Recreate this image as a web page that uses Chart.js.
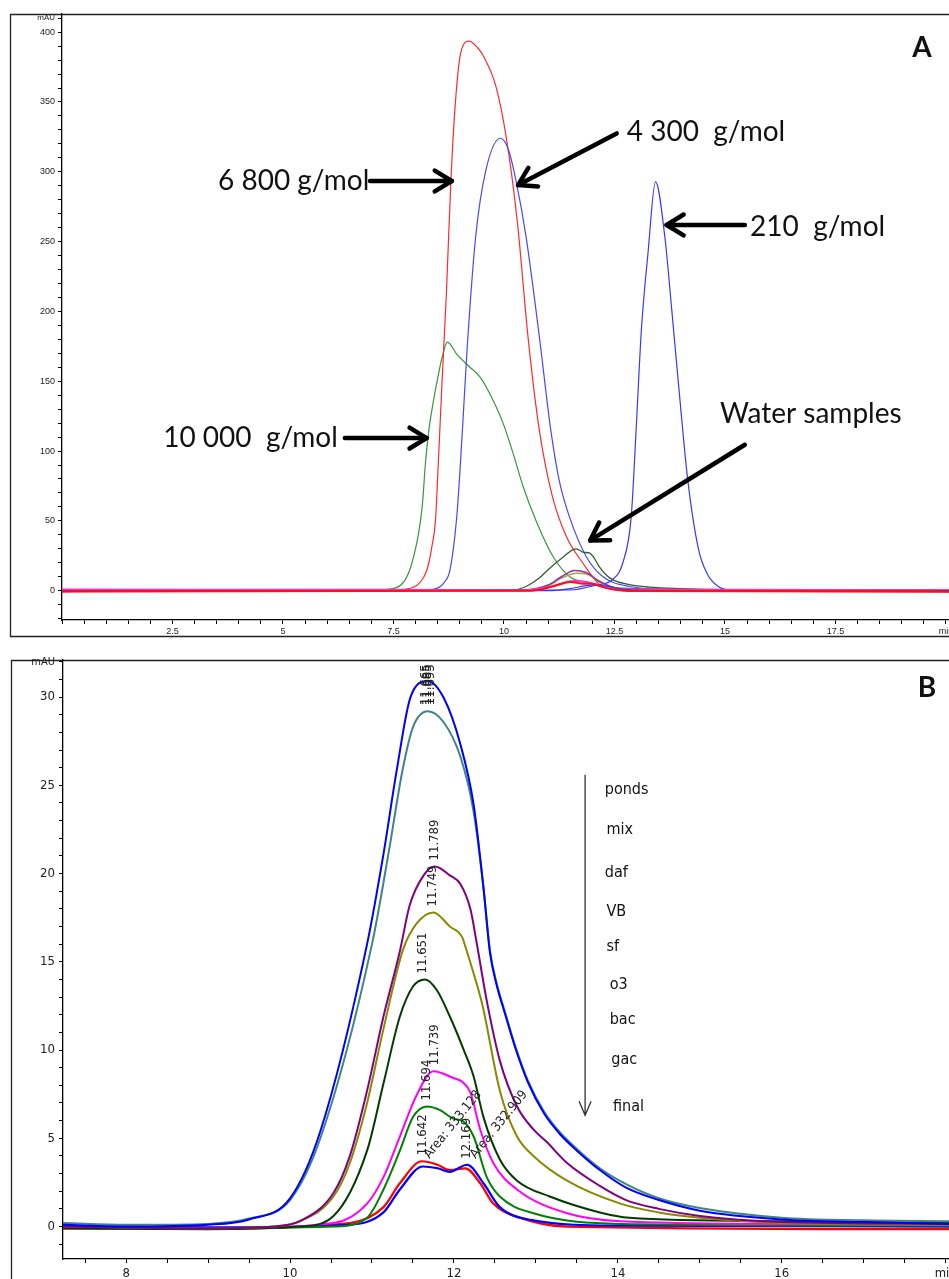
<!DOCTYPE html>
<html>
<head>
<meta charset="utf-8">
<script src="https://cdn.jsdelivr.net/npm/chart.js@4.4.1/dist/chart.umd.min.js"></script>
<style>
  html, body { margin: 0; padding: 0; background: #fff; }
  body { width: 949px; height: 1279px; position: relative; overflow: hidden; }
  canvas { position: absolute; left: 0; }
  #chartA { top: 0; }
  #chartB { top: 640px; }
</style>
</head>
<body>
<canvas id="chartA" width="949" height="640"></canvas>
<canvas id="chartB" width="949" height="639"></canvas>
<script>
"use strict"

// ---- panel A: standards + water samples, [time (min), signal (mAU)] ----
let aGreen10000 = [[0,0.3],[7.0,0.3],[7.55,2],[7.92,20],[8.15,60],[8.22,90],[8.3,115],[8.4,135],[8.5,152],[8.6,167],[8.72,178],[8.94,169],[9.23,160],[9.46,153],[9.68,141],[9.98,120],[10.2,99],[10.43,75],[10.74,49],[11.11,24.5],[11.49,10],[11.87,5.7],[12.25,3],[13,1.5],[15,0.5],[20.07,0.3]];
let aRed6800 = [[0,-0.8],[7.0,-0.5],[7.7,0.7],[8.19,10],[8.3,20],[8.37,31.7],[8.45,50],[8.52,95],[8.6,150],[8.7,215],[8.8,294],[8.9,349],[9.02,385],[9.21,393.6],[9.4,389],[9.55,382],[9.82,361],[10.05,325],[10.3,265],[10.55,180],[10.8,115],[11.1,67],[11.41,39],[11.78,20],[12.23,3],[13,-0.5],[20.07,-1]];
let aBlue4300 = [[0,0],[8.0,0],[8.46,1.5],[8.65,6],[8.78,15],[8.94,56],[9.06,115],[9.17,175],[9.36,253.5],[9.59,301],[9.92,324],[10.1,316],[10.27,294],[10.5,253.5],[10.8,182],[11.06,115],[11.25,79],[11.48,53],[11.86,24.5],[12.24,10],[12.84,3],[13.75,1],[20.07,0]];
let aBlue210 = [[0,0],[11.5,0.5],[12.09,4],[12.46,8],[12.69,20],[12.88,53],[12.99,115],[13.11,187],[13.26,242],[13.43,293],[13.64,253.5],[13.8,200],[14.01,127],[14.16,79],[14.4,30],[14.6,12],[14.85,3],[15.1,0.5],[16,0],[20.07,0]];
let aDarkGreenWater = [[0,0],[10.2,0.5],[10.5,3],[10.8,9],[11.0,15],[11.3,23],[11.63,30],[11.8,27.5],[11.93,27],[12.05,23],[12.16,17],[12.4,9],[12.85,4.3],[13.3,2.5],[14,1.5],[15,0.8],[20.07,0.3]];
let aPurpleWater = [[0,0],[10.4,0.3],[11.0,4],[11.3,10],[11.6,14.5],[11.86,13],[12.16,6.7],[12.5,2],[13,0.8],[20.07,0]];
let aOliveWater = [[0,0],[10.5,0.3],[11.0,3.5],[11.3,9],[11.65,12.5],[11.9,11.5],[12.2,5.5],[12.6,1.5],[13.2,0.5],[20.07,0]];
let aPinkWater = [[0,0.8],[7.5,0.6],[10.5,0.3],[11.0,2.5],[11.6,7],[11.9,6],[12.2,3],[12.6,0.8],[20.07,0.3]];
let aRedWater = [[0,-0.5],[10.6,0],[11.1,3],[11.5,6.2],[11.8,5],[12.0,5],[12.3,2],[12.8,0],[20.07,-0.5]];
let aBlueWater = [[0,0],[11.0,0],[11.5,1.5],[12.0,4],[12.3,3.5],[12.7,1],[13.5,0],[20.07,0]];

// ---- panel B: treatment train, [time (min), signal (mAU)] ----
let bPonds = [[7.23,0.1],[8,0],[9,0.1],[9.5,0.4],[10,1.6],[10.37,5.4],[10.94,16],[11.14,21.1],[11.3,25.8],[11.47,30],[11.68,30.9],[11.87,30],[12.08,27.3],[12.24,23.9],[12.36,19.2],[12.44,15.5],[12.52,13.7],[12.62,12.1],[12.75,10.1],[12.9,8.2],[13.1,6.4],[13.3,5.2],[13.5,4.3],[13.78,3.2],[14.1,2.2],[14.5,1.5],[15,0.9],[16,0.4],[17,0.25],[18.04,0.15]];
let bMix = [[7.23,0.2],[8,0.1],[9,0.15],[9.5,0.45],[10,1.5],[10.37,5],[11.0,16],[11.2,21.1],[11.37,25.8],[11.5,28.3],[11.68,29.2],[11.87,28.6],[12.08,26.6],[12.24,23.5],[12.36,19.2],[12.44,15.6],[12.52,13.8],[12.62,12.2],[12.75,10.2],[12.9,8.3],[13.1,6.5],[13.3,5.3],[13.5,4.4],[13.78,3.3],[14.1,2.4],[14.5,1.6],[15,1.05],[16,0.5],[17,0.35],[18.04,0.3]];
let bDaf = [[7.23,0],[9,-0.1],[9.8,0],[10.12,0.3],[10.53,1.9],[10.73,4.0],[10.94,7.7],[11.14,11.9],[11.34,15.6],[11.46,18.2],[11.63,19.9],[11.77,20.4],[11.95,19.9],[12.08,19.4],[12.2,18.0],[12.28,16.0],[12.4,12.8],[12.56,9.4],[12.77,6.8],[12.97,5.5],[13.13,4.8],[13.38,3.6],[13.78,2.3],[14.1,1.5],[14.5,1.0],[15,0.6],[16,0.26],[18.04,0.15]];
let bVB = [[7.23,0],[9,-0.1],[9.8,0],[10.12,0.3],[10.53,1.7],[10.73,3.6],[10.94,7.0],[11.14,11.2],[11.38,15.7],[11.55,17.2],[11.75,17.8],[11.95,17.0],[12.1,16.4],[12.15,15.7],[12.23,14.5],[12.35,12.5],[12.56,7.7],[12.77,5.1],[12.97,4.0],[13.38,2.6],[14.03,1.3],[14.5,0.8],[15,0.5],[16,0.2],[18.04,0.1]];
let bSf = [[7.23,-0.1],[9,-0.15],[10.12,0],[10.53,0.6],[10.94,4.3],[11.14,8.1],[11.34,11.9],[11.5,13.6],[11.65,14.0],[11.79,13.4],[11.95,11.9],[12.12,10.0],[12.24,8.5],[12.36,6.2],[12.56,3.8],[12.77,2.6],[13.17,1.7],[13.78,0.8],[14.14,0.5],[16,0.3],[18.04,0.2]];
let bO3 = [[7.23,-0.1],[9,-0.1],[10.53,0.2],[10.94,1.3],[11.14,2.8],[11.34,5.1],[11.54,7.4],[11.75,8.8],[12.0,8.4],[12.1,8.2],[12.2,7.6],[12.32,5.5],[12.48,3.6],[12.77,2.1],[13.38,0.75],[14.03,0.3],[16,0.15],[18.04,0.1]];
let bBac = [[7.23,-0.1],[9,-0.1],[10.53,0],[10.94,0.5],[11.14,2.1],[11.34,4.3],[11.5,6.2],[11.67,6.8],[11.83,6.6],[12.0,6.1],[12.1,6.0],[12.24,5.1],[12.4,2.8],[12.56,1.7],[12.97,0.75],[14.03,0.15],[18.04,0.05]];
let bGac = [[7.23,-0.1],[9,-0.1],[10.73,0.2],[11.14,1.1],[11.34,2.45],[11.61,3.7],[11.8,3.5],[11.95,3.2],[12.14,3.3],[12.32,2.45],[12.48,1.3],[12.77,0.56],[13.38,0],[18.04,-0.15]];
let bFinal = [[7.23,0],[9,-0.05],[10.73,0.1],[11.14,0.8],[11.34,2.1],[11.62,3.4],[11.8,3.3],[11.95,3.1],[12.16,3.5],[12.36,2.45],[12.56,1.1],[12.97,0.35],[14.03,0.05],[18.04,0]];

// ---- annotation texts ----
let aTextLabels = ["6 800 g/mol", "4 300  g/mol", "210  g/mol", "10 000  g/mol", "Water samples"];
let aTextX = [3.53, 12.78, 15.57, 2.29, 14.89];
let aTextY = [293.4, 328.4, 260.5, 109.5, 126.7];
let aArrowFrom = [[6.97, 293.4], [12.55, 327.5], [15.45, 261.9], [6.4, 109.3], [15.45, 104.5]];
let aArrowTo = [[8.82, 293.4], [10.32, 290.5], [13.68, 261.9], [8.25, 109.3], [11.95, 36]];

let bLegendLabels = ["ponds", "mix", "daf", "VB", "sf", "o3", "bac", "gac", "final"];
let bLegendX = [13.84, 13.86, 13.84, 13.86, 13.86, 13.9, 13.9, 13.92, 13.94];
let bLegendY = [24.75, 22.5, 20.05, 17.84, 15.86, 13.7, 11.71, 9.45, 6.78];

let bPeakLabels = ["11.665", "11.685", "11.695", "11.789", "11.749", "11.651", "11.739", "11.694", "11.642", "12.169"];
let bPeakX = [11.65, 11.68, 11.71, 11.77, 11.74, 11.62, 11.76, 11.67, 11.62, 12.16];
let bPeakY = [29.2, 29.2, 29.2, 20.4, 17.8, 14.0, 8.8, 6.8, 3.7, 3.5];
let bAreaLabels = ["Area: 333.128", "Area: 332.909"];
let bAreaX = [11.67, 12.23];
let bAreaY = [3.95, 3.95];

// fonts
function hasFont(name) {
  let c = document.createElement("canvas").getContext("2d");
  c.font = "40px monospace";
  let w = c.measureText("ponds mix 0123").width;
  c.font = '40px "' + name + '", monospace';
  return c.measureText("ponds mix 0123").width !== w;
}
let sans = '"Liberation Sans", Arial, sans-serif';
let narrow = hasFont("Liberation Sans Narrow") ? '"Liberation Sans Narrow", sans-serif'
  : (hasFont("DejaVu Sans Condensed") ? '"DejaVu Sans Condensed", sans-serif' : sans);
let calibri = 'Lato, "Open Sans", sans-serif';

function lineSet(data, color, width) {
  return { data: data, borderColor: color, borderWidth: width, pointRadius: 0,
           fill: false, cubicInterpolationMode: "monotone" };
}

function px(chart, t, v) {
  return [chart.scales.x.getPixelForValue(t), chart.scales.y.getPixelForValue(v)];
}

function drawArrow(ctx, x1, y1, x2, y2, width, head) {
  let a = Math.atan2(y2 - y1, x2 - x1);
  ctx.save();
  ctx.strokeStyle = "#000";
  ctx.lineWidth = width;
  ctx.lineCap = "round";
  ctx.lineJoin = "round";
  ctx.beginPath();
  ctx.moveTo(x1, y1);
  ctx.lineTo(x2, y2);
  ctx.stroke();
  ctx.beginPath();
  ctx.moveTo(x2 - head * Math.cos(a - 0.55), y2 - head * Math.sin(a - 0.55));
  ctx.lineTo(x2, y2);
  ctx.lineTo(x2 - head * Math.cos(a + 0.55), y2 - head * Math.sin(a + 0.55));
  ctx.stroke();
  ctx.restore();
}

function isMult(v, step) {
  return Math.abs(v / step - Math.round(v / step)) < 1e-6;
}

// frame round each panel
function framePlugin(left, top, bottom) {
  return {
    id: "frame",
    beforeDraw(chart) {
      let ctx = chart.ctx;
      ctx.save();
      ctx.strokeStyle = "#222";
      ctx.lineWidth = 1.3;
      ctx.beginPath();
      ctx.moveTo(chart.width + 2, top);
      ctx.lineTo(left, top);
      ctx.lineTo(left, bottom);
      if (bottom < chart.height) ctx.lineTo(chart.width + 2, bottom);
      ctx.stroke();
      ctx.restore();
    }
  };
}

let annotateA = {
  id: "annotateA",
  afterDatasetsDraw(chart) {
    let ctx = chart.ctx;
    ctx.save();
    ctx.fillStyle = "#111";
    ctx.font = "28px " + calibri;
    ctx.textBaseline = "middle";
    ctx.textAlign = "left";
    for (let i = 0; i < aTextLabels.length; i++) {
      let p = px(chart, aTextX[i], aTextY[i]);
      ctx.fillText(aTextLabels[i], p[0], p[1]);
      let f = px(chart, aArrowFrom[i][0], aArrowFrom[i][1]);
      let t = px(chart, aArrowTo[i][0], aArrowTo[i][1]);
      drawArrow(ctx, f[0], f[1], t[0], t[1], 4.5, 20);
    }
    ctx.font = "bold 28px " + calibri;
    ctx.textAlign = "center";
    let p = px(chart, 19.46, 389);
    ctx.fillText("A", p[0], p[1]);
    ctx.restore();
  }
};

let annotateB = {
  id: "annotateB",
  afterDatasetsDraw(chart) {
    let ctx = chart.ctx;
    ctx.save();
    ctx.fillStyle = "#222";
    // retention time labels above the peaks
    ctx.font = "13px " + narrow;
    ctx.textAlign = "left";
    ctx.textBaseline = "middle";
    for (let i = 0; i < bPeakLabels.length; i++) {
      let p = px(chart, bPeakX[i], bPeakY[i]);
      ctx.save();
      ctx.translate(p[0], p[1] - 6);
      ctx.rotate(-Math.PI / 2);
      ctx.fillText(bPeakLabels[i], 0, 0);
      ctx.restore();
    }
    for (let i = 0; i < bAreaLabels.length; i++) {
      let p = px(chart, bAreaX[i], bAreaY[i]);
      ctx.save();
      ctx.translate(p[0], p[1]);
      ctx.rotate(-51 * Math.PI / 180);
      ctx.fillText(bAreaLabels[i], 0, 0);
      ctx.restore();
    }
    // order of the samples along the treatment train
    ctx.font = "16px " + narrow;
    ctx.fillStyle = "#111";
    for (let i = 0; i < bLegendLabels.length; i++) {
      let p = px(chart, bLegendX[i], bLegendY[i]);
      ctx.fillText(bLegendLabels[i], p[0], p[1]);
    }
    let top = px(chart, 13.6, 25.6);
    let bot = px(chart, 13.6, 6.3);
    ctx.strokeStyle = "#333";
    ctx.lineWidth = 1.3;
    ctx.beginPath();
    ctx.moveTo(top[0], top[1]);
    ctx.lineTo(bot[0], bot[1]);
    ctx.moveTo(bot[0] - 6, bot[1] - 14);
    ctx.lineTo(bot[0], bot[1]);
    ctx.lineTo(bot[0] + 6, bot[1] - 14);
    ctx.stroke();
    ctx.font = "bold 28px " + calibri;
    ctx.textAlign = "center";
    ctx.fillStyle = "#111";
    let p = px(chart, 17.77, 30.5);
    ctx.fillText("B", p[0], p[1]);
    ctx.restore();
  }
};

function makeOptions(o) {
  return {
    responsive: false,
    animation: false,
    devicePixelRatio: 1,
    layout: { padding: { left: 0, top: o.top, right: 0, bottom: 0 } },
    plugins: { legend: { display: false }, tooltip: { enabled: false } },
    scales: {
      x: {
        type: "linear", min: o.xMin, max: o.xMax,
        ticks: {
          stepSize: 0.5, autoSkip: false, maxRotation: 0, minRotation: 0, includeBounds: false,
          color: "#222", padding: o.xPad, font: o.xFont,
          callback: v => Math.abs(v - o.xLast) < 1e-6 ? "min"
            : (isMult(v, o.xMajor) && v > o.xMin + 0.01 ? String(v) : "")
        },
        grid: { drawOnChartArea: false, tickLength: 4, color: "#000", lineWidth: 1 },
        border: { color: "#000", width: 1.3 },
        afterFit: s => { s.height = o.xHeight; s.paddingLeft = 0; s.paddingRight = 0; }
      },
      y: {
        type: "linear", min: o.yMin, max: o.yMax,
        ticks: {
          stepSize: o.yStep, autoSkip: false, includeBounds: false, color: "#222", padding: o.yPad,
          font: ctx => (ctx.tick && Math.abs(ctx.tick.value - o.yTop) < 1e-6) ? o.unitFont : o.yFont,
          callback: v => Math.abs(v - o.yTop) < 1e-6 ? "mAU" : (isMult(v, o.yMajor) ? String(v) : "")
        },
        grid: { drawOnChartArea: false, tickLength: 4, color: "#000", lineWidth: 1 },
        border: { color: "#000", width: 1.3 },
        afterFit: s => { s.width = o.yWidth; s.paddingTop = 0; s.paddingBottom = 0; }
      }
    }
  };
}

let chartA = new Chart(document.getElementById("chartA"), {
  type: "line",
  data: {
    datasets: [
      lineSet(aRedWater, "#ff1010", 2),
      lineSet(aBlueWater, "#3535ff", 1.2),
      lineSet(aPinkWater, "#ff33cc", 2),
      lineSet(aDarkGreenWater, "#2f5f2f", 1.3),
      lineSet(aPurpleWater, "#993399", 1.6),
      lineSet(aOliveWater, "#a3a353", 1.6),
      lineSet(aBlue210, "#3838ff", 1.2),
      lineSet(aBlue4300, "#4747ff", 1.2),
      lineSet(aRed6800, "#ff2a2a", 1.2),
      lineSet(aGreen10000, "#3c963c", 1.2)
    ]
  },
  options: makeOptions({
    top: 14, xMin: 0, xMax: 20.07, xMajor: 2.5, xLast: 20, xPad: 2, xHeight: 20,
    xFont: { family: sans, size: 9 },
    yMin: -21, yMax: 413, yStep: 10, yMajor: 50, yTop: 410, yPad: 3, yWidth: 62,
    yFont: { family: sans, size: 9 }, unitFont: { family: sans, size: 8 }
  }),
  plugins: [framePlugin(10.5, 14.5, 636.5), annotateA]
});

let chartB = new Chart(document.getElementById("chartB"), {
  type: "line",
  data: {
    datasets: [
      lineSet(bPonds, "#0000ff", 2),
      lineSet(bMix, "#3f8585", 2),
      lineSet(bDaf, "#800080", 2),
      lineSet(bVB, "#8a8a00", 2),
      lineSet(bSf, "#003c00", 2),
      lineSet(bO3, "#ff00ff", 2),
      lineSet(bBac, "#008000", 2),
      lineSet(bFinal, "#0000ff", 2.2),
      lineSet(bGac, "#ff0000", 2.2)
    ]
  },
  options: makeOptions({
    top: 20, xMin: 7.23, xMax: 18.04, xMajor: 2, xLast: 18, xPad: 3, xHeight: 20,
    xFont: { family: narrow, size: 13 },
    yMin: -1.84, yMax: 32.1, yStep: 1, yMajor: 5, yTop: 32, yPad: 4, yWidth: 63,
    yFont: { family: narrow, size: 13 }, unitFont: { family: narrow, size: 11 }
  }),
  plugins: [framePlugin(11.5, 20.5, 639), annotateB]
});
</script>
</body>
</html>
